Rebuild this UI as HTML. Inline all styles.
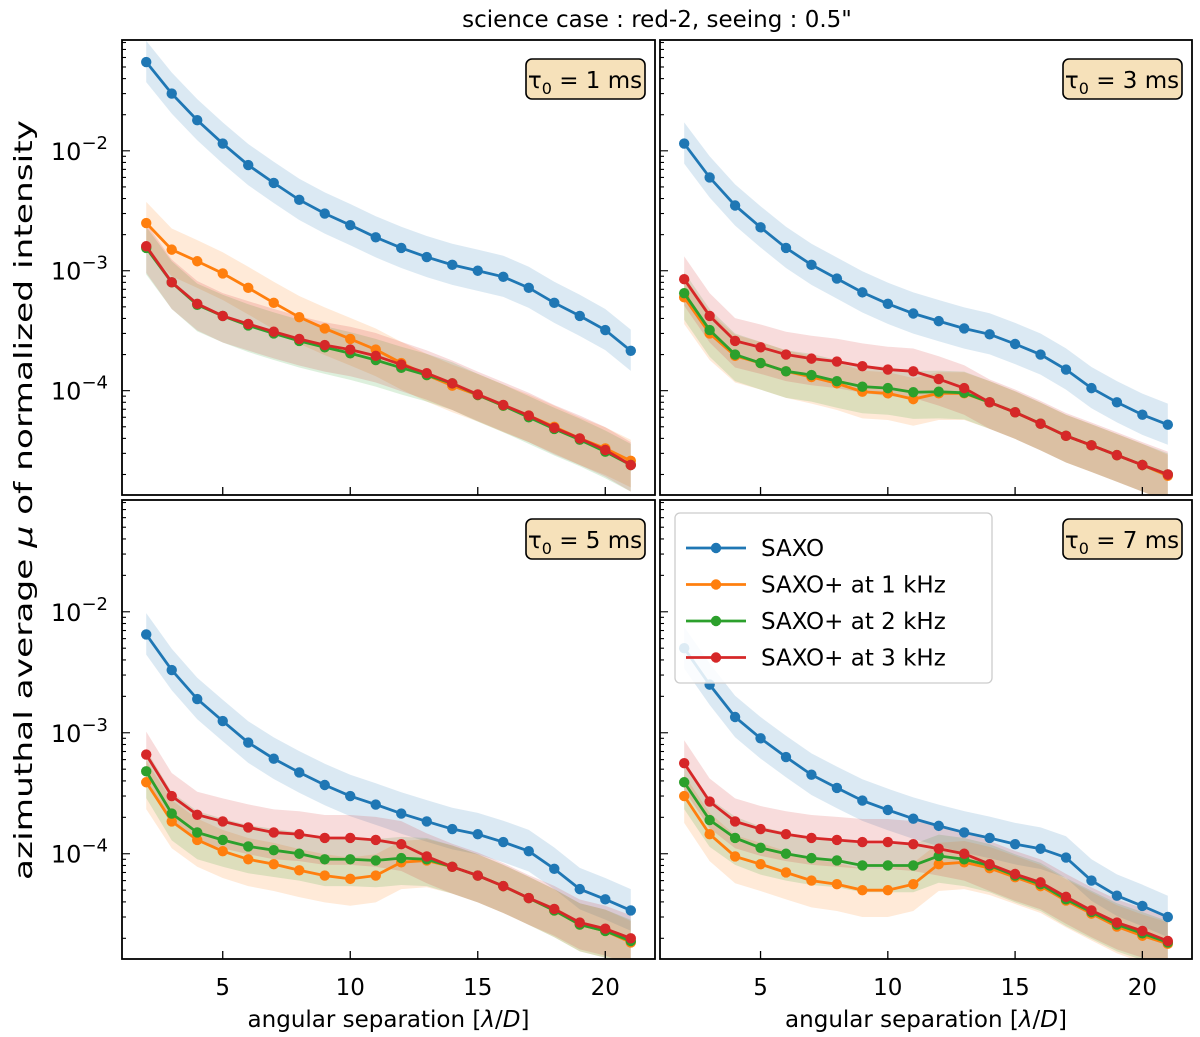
<!DOCTYPE html>
<html><head><meta charset="utf-8"><style>
body{margin:0;background:#fff;}
svg{font-family:"DejaVu Sans","Liberation Sans",sans-serif;}
</style></head><body>
<svg id="fig" width="1200" height="1032" viewBox="0 0 1200 1032" xmlns="http://www.w3.org/2000/svg">
<text x="657" y="27" font-size="23" text-anchor="middle" fill="#000">science case : red-2, seeing : 0.5"</text>
<text transform="translate(32,500) rotate(-90)" font-size="25" text-anchor="middle" fill="#000" textLength="760" lengthAdjust="spacingAndGlyphs">azimuthal average <tspan font-style="italic">μ</tspan> of normalized intensity</text>
<g id="plots"></g>
</svg>
<script>
const xs=[2,3,4,5,6,7,8,9,10,11,12,13,14,15,16,17,18,19,20,21];
const tauLabels=["1","3","5","7"];
const seriesNames=["SAXO","SAXO+ at 1 kHz","SAXO+ at 2 kHz","SAXO+ at 3 kHz"];
const xTicks=[5,10,15,20];
const yTickExp=[-2,-3,-4];
// panel 1 (tau0=1ms)
const p1Saxo=[5.5e-2,3e-2,1.8e-2,1.15e-2,7.6e-3,5.4e-3,3.9e-3,3.0e-3,2.4e-3,1.9e-3,1.55e-3,1.3e-3,1.12e-3,1.0e-3,8.9e-4,7.2e-4,5.4e-4,4.2e-4,3.2e-4,2.15e-4];
const p1K1=[2.5e-3,1.5e-3,1.2e-3,9.5e-4,7.2e-4,5.4e-4,4.1e-4,3.3e-4,2.7e-4,2.2e-4,1.7e-4,1.35e-4,1.1e-4,9.2e-5,7.5e-5,6.2e-5,5e-5,4e-5,3.3e-5,2.6e-5];
const p1K2=[1.55e-3,8e-4,5.2e-4,4.2e-4,3.5e-4,3.0e-4,2.6e-4,2.3e-4,2.05e-4,1.8e-4,1.55e-4,1.35e-4,1.15e-4,9.2e-5,7.5e-5,6e-5,4.8e-5,3.9e-5,3.1e-5,2.4e-5];
const p1K3=[1.6e-3,8e-4,5.3e-4,4.2e-4,3.6e-4,3.1e-4,2.7e-4,2.4e-4,2.2e-4,1.95e-4,1.65e-4,1.4e-4,1.15e-4,9.3e-5,7.6e-5,6.2e-5,4.9e-5,4e-5,3.2e-5,2.4e-5];
// panel 2 (3ms)
const p2Saxo=[1.15e-2,6e-3,3.5e-3,2.3e-3,1.55e-3,1.12e-3,8.6e-4,6.6e-4,5.3e-4,4.4e-4,3.8e-4,3.3e-4,2.95e-4,2.45e-4,2e-4,1.5e-4,1.05e-4,8e-5,6.3e-5,5.2e-5];
const p2K1=[6e-4,3e-4,1.95e-4,1.7e-4,1.45e-4,1.3e-4,1.15e-4,9.8e-5,9.5e-5,8.5e-5,9.5e-5,9.5e-5,8e-5,6.6e-5,5.3e-5,4.2e-5,3.5e-5,2.9e-5,2.4e-5,1.95e-5];
const p2K2=[6.5e-4,3.2e-4,2e-4,1.7e-4,1.45e-4,1.35e-4,1.2e-4,1.08e-4,1.05e-4,9.7e-5,9.8e-5,9.6e-5,8e-5,6.6e-5,5.3e-5,4.2e-5,3.5e-5,2.9e-5,2.4e-5,2.0e-5];
const p2K3=[8.5e-4,4.2e-4,2.6e-4,2.3e-4,2.0e-4,1.85e-4,1.75e-4,1.6e-4,1.5e-4,1.45e-4,1.25e-4,1.05e-4,8e-5,6.6e-5,5.3e-5,4.2e-5,3.5e-5,2.9e-5,2.4e-5,2.0e-5];
// panel 3 (5ms)
const p3Saxo=[6.5e-3,3.3e-3,1.9e-3,1.25e-3,8.3e-4,6.1e-4,4.7e-4,3.7e-4,3.0e-4,2.55e-4,2.15e-4,1.85e-4,1.6e-4,1.45e-4,1.25e-4,1.05e-4,7.5e-5,5.1e-5,4.2e-5,3.4e-5];
const p3K1=[3.9e-4,1.85e-4,1.3e-4,1.05e-4,9e-5,8.2e-5,7.3e-5,6.6e-5,6.2e-5,6.6e-5,8.5e-5,8.8e-5,7.8e-5,6.6e-5,5.4e-5,4.3e-5,3.4e-5,2.6e-5,2.3e-5,1.85e-5];
const p3K2=[4.8e-4,2.15e-4,1.5e-4,1.3e-4,1.15e-4,1.07e-4,1.0e-4,9e-5,9e-5,8.8e-5,9.2e-5,9.0e-5,7.8e-5,6.6e-5,5.4e-5,4.3e-5,3.4e-5,2.6e-5,2.3e-5,1.9e-5];
const p3K3=[6.6e-4,3e-4,2.1e-4,1.85e-4,1.65e-4,1.5e-4,1.45e-4,1.35e-4,1.35e-4,1.3e-4,1.2e-4,9.5e-5,7.8e-5,6.6e-5,5.4e-5,4.3e-5,3.5e-5,2.7e-5,2.4e-5,2.0e-5];
// panel 4 (7ms)
const p4Saxo=[5e-3,2.5e-3,1.35e-3,9e-4,6.3e-4,4.5e-4,3.5e-4,2.75e-4,2.3e-4,1.95e-4,1.7e-4,1.5e-4,1.35e-4,1.2e-4,1.1e-4,9.3e-5,6e-5,4.5e-5,3.7e-5,3e-5];
const p4K1=[3e-4,1.45e-4,9.5e-5,8.2e-5,7e-5,6e-5,5.6e-5,5e-5,5e-5,5.6e-5,8.2e-5,8.5e-5,7.6e-5,6.4e-5,5.4e-5,4.1e-5,3.2e-5,2.5e-5,2.1e-5,1.8e-5];
const p4K2=[3.9e-4,1.9e-4,1.35e-4,1.12e-4,1.0e-4,9.2e-5,8.8e-5,8e-5,8e-5,8e-5,9.6e-5,9e-5,8e-5,6.6e-5,5.6e-5,4.2e-5,3.3e-5,2.6e-5,2.2e-5,1.85e-5];
const p4K3=[5.6e-4,2.7e-4,1.85e-4,1.6e-4,1.45e-4,1.35e-4,1.3e-4,1.25e-4,1.25e-4,1.2e-4,1.1e-4,1.0e-4,8.2e-5,6.8e-5,5.8e-5,4.4e-5,3.4e-5,2.7e-5,2.3e-5,1.9e-5];
const bandLo=[0.68,0.6,0.6,0.6];
const bandHi=[1.5,1.5,1.5,1.55];

const colors=["#1f77b4","#ff7f0e","#2ca02c","#d62728"];
const panelData=[[p1Saxo,p1K1,p1K2,p1K3],[p2Saxo,p2K1,p2K2,p2K3],[p3Saxo,p3K1,p3K2,p3K3],[p4Saxo,p4K1,p4K2,p4K3]];
const rects=[[122,40,655,495],[660,40,1192,495],[122,500,655,959],[660,500,1192,959]];
const XMIN=1.05,XMAX=21.95,LMIN=-4.87,LMAX=-1.076;
const NS="http://www.w3.org/2000/svg";
const root=document.getElementById('plots');
function mk(tag,attrs,parent){const e=document.createElementNS(NS,tag);for(const k in attrs)e.setAttribute(k,attrs[k]);(parent||root).appendChild(e);return e;}

panelData.forEach((series,pi)=>{
  const [x0,y0,x1,y1]=rects[pi];
  const sx=v=>x0+(v-XMIN)/(XMAX-XMIN)*(x1-x0);
  const sy=v=>y0+(LMAX-Math.log10(v))/(LMAX-LMIN)*(y1-y0);
  const g=mk('g',{});
  
  
  const cp=mk('clipPath',{id:'cp'+pi},g);
  mk('rect',{x:x0,y:y0,width:x1-x0,height:y1-y0},cp);
  const pg=mk('g',{'clip-path':'url(#cp'+pi+')'},g);
  series.forEach((vals,si)=>{
    let up=xs.map((x,i)=>sx(x)+','+sy(vals[i]*bandHi[si]));
    let lo=xs.map((x,i)=>sx(x)+','+sy(vals[i]*bandLo[si])).reverse();
    const b=mk('polygon',{points:up.concat(lo).join(' '),fill:colors[si],'fill-opacity':0.16,stroke:'none'},pg);
    
    
  });
  series.forEach((vals,si)=>{
    const l=mk('polyline',{points:xs.map((x,i)=>sx(x)+','+sy(vals[i])).join(' '),fill:'none',stroke:colors[si],'stroke-width':2.8},pg);
    
    
    xs.forEach((x,i)=>{
      const c=mk('circle',{cx:sx(x),cy:sy(vals[i]),r:5.2,fill:colors[si]},pg);
      
      
    });
  });
  xTicks.forEach(t=>{mk('line',{x1:sx(t),x2:sx(t),y1:y1,y2:y1-8,stroke:'#000','stroke-width':1.3},g);
    if(pi>=2){const tx=mk('text',{x:sx(t),y:y1+36,'font-size':23,'text-anchor':'middle'},g);tx.textContent=t;
      
      }});
  for(let e=-5;e<=-1;e++){for(let m=1;m<10;m++){const L=e+Math.log10(m);if(L<LMIN||L>LMAX)continue;
    const y=sy(Math.pow(10,L));mk('line',{x1:x0,x2:x0+(m===1?8:4),y1:y,y2:y,stroke:'#000','stroke-width':1.1},g);}}
  if(pi%2===0){yTickExp.forEach(e=>{const tx=mk('text',{x:x0-14,y:sy(Math.pow(10,e))+9,'font-size':24,'text-anchor':'end'},g);
    tx.innerHTML='10<tspan dy="-11" font-size="18">−'+(-e)+'</tspan>';
    
    });}
  if(pi>=2){const xl=mk('text',{x:(x0+x1)/2,y:y1+68,'font-size':23,'text-anchor':'middle'},g);
    xl.innerHTML='angular separation [<tspan font-style="italic">λ</tspan>/<tspan font-style="italic">D</tspan>]';
    
    }
  mk('rect',{x:x0,y:y0,width:x1-x0,height:y1-y0,fill:'none',stroke:'#000','stroke-width':1.8},g);
  const bx=mk('g',{},g);
  
  
  mk('rect',{x:x1-129,y:y0+19,width:119,height:40,rx:6,fill:'#f5deb3','fill-opacity':0.9,stroke:'#000','stroke-width':1.6},bx);
  const tt=mk('text',{x:x1-70,y:y0+48,'font-size':23,'text-anchor':'middle'},bx);
  tt.innerHTML='τ<tspan dy="6" font-size="16">0</tspan><tspan dy="-6"> = '+tauLabels[pi]+' ms</tspan>';
});
const lg=mk('g',{});


mk('rect',{x:675,y:513,width:317,height:170,rx:5,fill:'#fff','fill-opacity':0.85,stroke:'#ccc','stroke-width':1.3},lg);
seriesNames.forEach((n,i)=>{const y=548+i*36.5;
  const en=mk('g',{},lg);
  
  
  mk('line',{x1:686,x2:746,y1:y,y2:y,stroke:colors[i],'stroke-width':2.8},en);
  mk('circle',{cx:716,cy:y,r:5.2,fill:colors[i]},en);
  const t=mk('text',{x:761,y:y+8,'font-size':23},en);t.textContent=n;});
</script>
</body></html>
